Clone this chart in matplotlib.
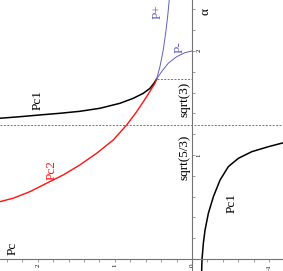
import numpy as np
import matplotlib
matplotlib.use("Agg")
import matplotlib.pyplot as plt
from matplotlib.ticker import MultipleLocator, FixedLocator

plt.rcParams["font.family"] = ["Liberation Serif", "DejaVu Serif"]
plt.rcParams["axes.unicode_minus"] = False

pc1_upper_pc = [2.494, 2.234, 1.974, 1.714, 1.455, 1.195, 0.935, 0.762, 0.632,
                0.545, 0.494, 0.458]
pc1_upper_a = [1.353, 1.368, 1.385, 1.401, 1.420, 1.449, 1.497, 1.545, 1.593,
               1.641, 1.689, 1.732]

pc1_lower_pc = [-0.125, -0.13, -0.147, -0.169, -0.212, -0.277, -0.364, -0.471,
                -0.601, -0.775, -0.991, -1.186]
pc1_lower_a = [-0.115, 0.0, 0.151, 0.279, 0.439, 0.599, 0.760, 0.888, 0.968,
               1.032, 1.080, 1.118]

pc2_pc = [2.494, 2.321, 2.104, 1.887, 1.671, 1.455, 1.238, 1.022, 0.848, 0.718,
          0.588, 0.481, 0.458]
pc2_a = [0.551, 0.584, 0.647, 0.728, 0.808, 0.904, 1.016, 1.144, 1.288, 1.416,
         1.561, 1.689, 1.732]

pplus_pc = [0.458, 0.416, 0.373, 0.342, 0.316, 0.295]
pplus_a = [1.732, 1.849, 2.010, 2.170, 2.330, 2.490]

pminus_pc = [0.458, 0.394, 0.308, 0.199, 0.091, 0.0]
pminus_a = [1.732, 1.801, 1.882, 1.945, 1.984, 2.0]

a_sqrt3 = np.sqrt(3.0)
a_sqrt53 = np.sqrt(5.0 / 3.0)

pc_ticks = [-1, 0, 1, 2]
a_ticks = [1, 2]

blue = "#5e5ec4"
red = "#ff1010"

fig = plt.figure(figsize=(2.83, 2.71), dpi=100)
ax = fig.add_axes([0, 0, 1, 1])
ax.set_xlim(2.49, -1.18)
ax.set_ylim(-0.115, 2.49)

# curves
ax.plot(pc1_upper_pc, pc1_upper_a, color="black", lw=1.1)
ax.plot(pc1_lower_pc, pc1_lower_a, color="black", lw=1.1)
ax.plot(pc2_pc, pc2_a, color=red, lw=1.0)
ax.plot(pplus_pc, pplus_a, color=blue, lw=0.7)
ax.plot(pminus_pc, pminus_a, color=blue, lw=0.7)

# reference lines
ax.axhline(a_sqrt53, color="0.45", lw=0.7, ls=(0, (2, 1.5)))
ax.plot([pc2_pc[-1], 0], [a_sqrt3, a_sqrt3], color="0.45", lw=0.7, ls=(0, (2, 1.5)))

# axes through the origin
for s in ["top", "left"]:
    ax.spines[s].set_visible(False)
ax.spines["right"].set_position(("data", 0))
ax.spines["bottom"].set_position(("data", 0))
for s in ["right", "bottom"]:
    ax.spines[s].set_color("0.45")
    ax.spines[s].set_linewidth(0.8)
ax.yaxis.tick_right()

ax.xaxis.set_major_locator(FixedLocator(pc_ticks))
ax.xaxis.set_minor_locator(MultipleLocator(0.2))
ax.yaxis.set_major_locator(FixedLocator(a_ticks))
ax.yaxis.set_minor_locator(MultipleLocator(0.2))
ax.tick_params(which="both", direction="out", length=2, width=0.5, color="0.45",
               labelsize=5, pad=1.5)
ax.tick_params(axis="x", labelrotation=90)
ax.tick_params(axis="y", labelrotation=90)

# labels, rotated like the rest of the figure
kw = dict(rotation=90, ha="center", va="center", fontsize=9.5)
ax.text(2.32, 0.10, "Pc", **kw)
ax.text(2.0, 1.53, "Pc1", **kw)
ax.text(-0.52, 0.54, "Pc1", **kw)
ax.text(1.82, 0.86, "Pc2", color=red, **kw)
ax.text(0.10, 1.53, "sqrt(3)", **kw)
ax.text(0.10, 0.98, "sqrt(5/3)", **kw)
ax.text(0.44, 2.38, "P+", color=blue, **kw)
ax.text(0.156, 2.04, "P-", color=blue, **kw)
ax.text(-0.17, 2.38, "α", **kw)

fig.savefig("out.png", dpi=100)
